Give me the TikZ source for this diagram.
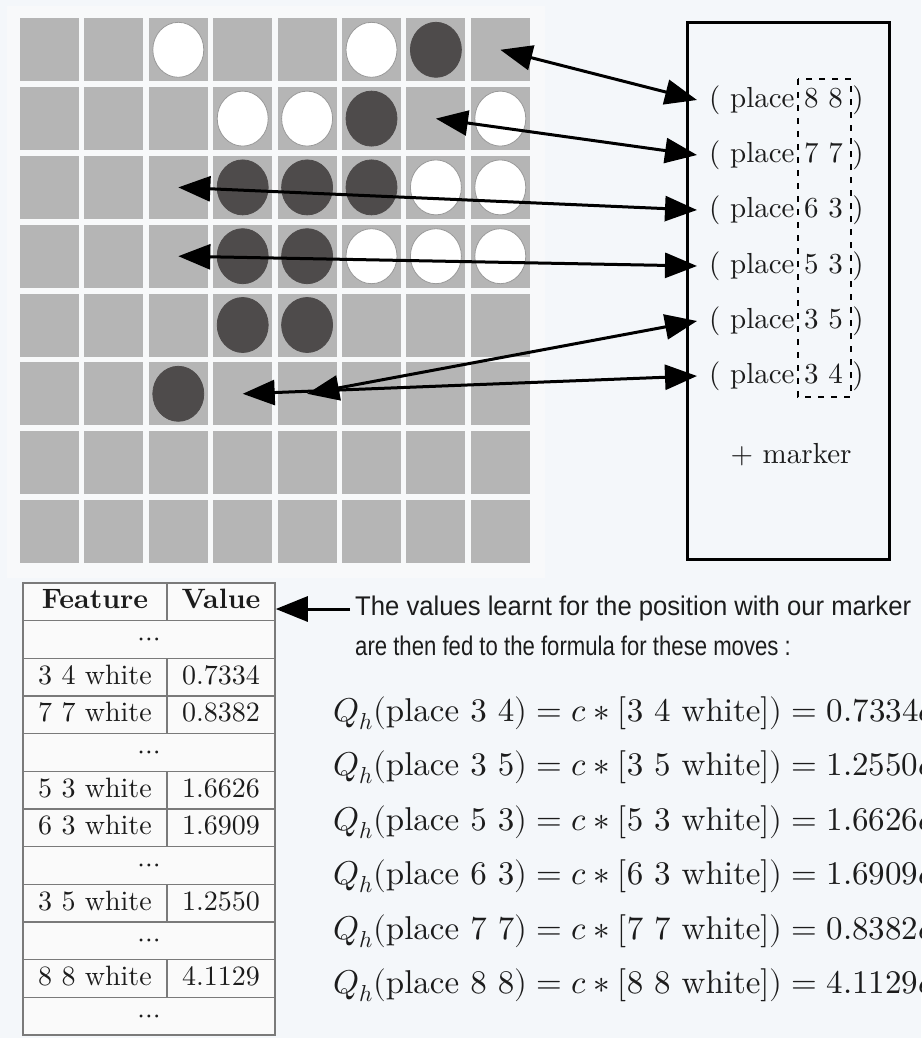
\documentclass[tikz,border=0pt]{standalone}
\usepackage{fontspec}
\usepackage{unicode-math}
\setmainfont{lmroman10-regular.otf}[BoldFont=lmroman10-bold.otf,ItalicFont=lmroman10-italic.otf]
\setmathfont{latinmodern-math.otf}
\newfontfamily\sansfont{Liberation Sans}
\usetikzlibrary{arrows.meta}
\definecolor{bg}{HTML}{F4F7FA}
\definecolor{boardbg}{HTML}{F8F9FA}
\definecolor{cellgray}{HTML}{B5B5B5}
\definecolor{darkpc}{HTML}{4E4B4B}
\definecolor{tblline}{HTML}{7A7A7A}
\definecolor{tblfill}{HTML}{FAFAFA}
\definecolor{ink}{HTML}{1C1C1C}
\tikzset{
  cellbox/.style={fill=cellgray},
  whitepc/.style={fill=white, draw=black!40, line width=0.8pt},
  blackpc/.style={fill=darkpc, draw=darkpc, line width=0.8pt},
  link/.style={line width=3pt, {Triangle[length=32pt,width=25pt]}-{Triangle[length=32pt,width=25pt]}},
  onelink/.style={line width=3pt, -{Triangle[length=32pt,width=25pt]}},
  boxtxt/.style={anchor=west, inner xsep=12pt, inner ysep=0pt, text=ink, font=\fontsize{29}{34}\selectfont},
  tcell/.style={draw=tblline, fill=tblfill, line width=1.5pt, inner sep=0pt, minimum height=37.67pt,
                text height=19pt, text depth=5pt, text=ink, font=\fontsize{28}{32}\selectfont},
  formula/.style={anchor=west, inner sep=0pt, text=ink, font=\fontsize{33}{38}\selectfont},
  note/.style={anchor=west, inner xsep=5pt, inner ysep=0pt, text=ink, font=\sansfont\fontsize{27}{31}\selectfont},
  dashbox/.style={line width=2.5pt, dash pattern=on 6pt off 7pt},
}
\begin{document}
\begin{tikzpicture}[x=1pt, y=-1pt]
\useasboundingbox (0,0) rectangle (921,1038);
\clip (0,0) rectangle (921,1038);
\fill[bg] (0,0) rectangle (921,1038);
\fill[boardbg] (7,6) rectangle (545,578);
% board
\foreach \c in {0,...,7} {
  \foreach \r in {0,...,7} {
    \fill[cellbox] ({20+\c*64.4},{18.3+\r*68.8}) rectangle +(59,63);
  }
}
% pieces (column, row from top, style)
\foreach \c/\r/\s in {3/1/whitepc,6/1/whitepc,7/1/blackpc,
  4/2/whitepc,5/2/whitepc,6/2/blackpc,8/2/whitepc,
  4/3/blackpc,5/3/blackpc,6/3/blackpc,7/3/whitepc,8/3/whitepc,
  4/4/blackpc,5/4/blackpc,6/4/whitepc,7/4/whitepc,8/4/whitepc,
  4/5/blackpc,5/5/blackpc,
  3/6/blackpc} {
  \draw[\s] ({-14.9+\c*64.4},{-19+\r*68.8}) ellipse [x radius=25.5pt, y radius=27.5pt];
}
% target squares (cell centres)
\coordinate (sq88) at ({-14.9+8*64.4},{-19+1*68.8});
\coordinate (sq77) at ({-14.9+7*64.4},{-19+2*68.8});
\coordinate (sq63) at ({-14.9+3*64.4},{-19+3*68.8});
\coordinate (sq53) at ({-14.9+3*64.4},{-19+4*68.8});
\coordinate (sq35) at ({-14.9+5*64.4},{-19+6*68.8});
\coordinate (sq34) at ({-14.9+4*64.4},{-19+6*68.8});
% move box
\draw[line width=3pt] (687,23) rectangle (889,559);
\node[boxtxt] (p88) at (697,100) {( place 8 8\hspace{0.33em})};
\node[boxtxt] (p77) at (697,155) {( place 7 7\hspace{0.33em})};
\node[boxtxt] (p63) at (697,210) {( place 6 3\hspace{0.33em})};
\node[boxtxt] (p53) at (697,266) {( place 5 3\hspace{0.33em})};
\node[boxtxt] (p35) at (697,321) {( place 3 5\hspace{0.33em})};
\node[boxtxt] (p34) at (697,376) {( place 3 4\hspace{0.33em})};
\node[text=ink, inner sep=0pt, font=\fontsize{29}{34}\selectfont] (mk) at (791,455) {+ marker};
\draw[dashbox] (798,79) rectangle (851,397);
% arrows board <-> moves
\draw[link] (sq88) -- (p88.west);
\draw[link] (sq77) -- (p77.west);
\draw[link] (sq63) -- (p63.west);
\draw[link] (sq53) -- (p53.west);
\draw[link] (sq35) -- (p35.west);
\draw[link] (sq34) -- (p34.west);
% table
\foreach \i/\f/\v in {0/{\bfseries Feature}/{\bfseries Value},
   2/{3 4 white}/{0.7334}, 3/{7 7 white}/{0.8382},
   5/{5 3 white}/{1.6626}, 6/{6 3 white}/{1.6909},
   8/{3 5 white}/{1.2550}, 10/{8 8 white}/{4.1129}} {
  \node[tcell, minimum width=144pt] (f\i) at (95,{583+(\i+0.5)*37.67}) {\f};
  \node[tcell, minimum width=108pt] (v\i) at (221,{583+(\i+0.5)*37.67}) {\v};
}
\foreach \i in {1,4,7,9,11} {
  \node[tcell, minimum width=252pt] (d\i) at (149,{583+(\i+0.5)*37.67}) {$\cdots$};
}
% note
\node[note] (t1) at (350,609) {\scalebox{0.95}[1]{The values learnt for the position with our marker}};
\node[note] (t2) at (350,646) {\scalebox{0.82}[1]{are then fed to the formula for these moves :}};
\draw[onelink] (t1.west) -- (t1.west -| v0.east);
% formulas (cut off at the right edge, as in the reference)
\node[formula] (q34) at (333,713) {$Q_h(\mbox{place 3 4}) = c * [\mbox{3 4 white}]) = 0.7334c$};
\node[formula] (q35) at (333,767) {$Q_h(\mbox{place 3 5}) = c * [\mbox{3 5 white}]) = 1.2550c$};
\node[formula] (q53) at (333,822) {$Q_h(\mbox{place 5 3}) = c * [\mbox{5 3 white}]) = 1.6626c$};
\node[formula] (q63) at (333,876) {$Q_h(\mbox{place 6 3}) = c * [\mbox{6 3 white}]) = 1.6909c$};
\node[formula] (q77) at (333,931) {$Q_h(\mbox{place 7 7}) = c * [\mbox{7 7 white}]) = 0.8382c$};
\node[formula] (q88) at (333,985) {$Q_h(\mbox{place 8 8}) = c * [\mbox{8 8 white}]) = 4.1129c$};
\end{tikzpicture}
\end{document}
